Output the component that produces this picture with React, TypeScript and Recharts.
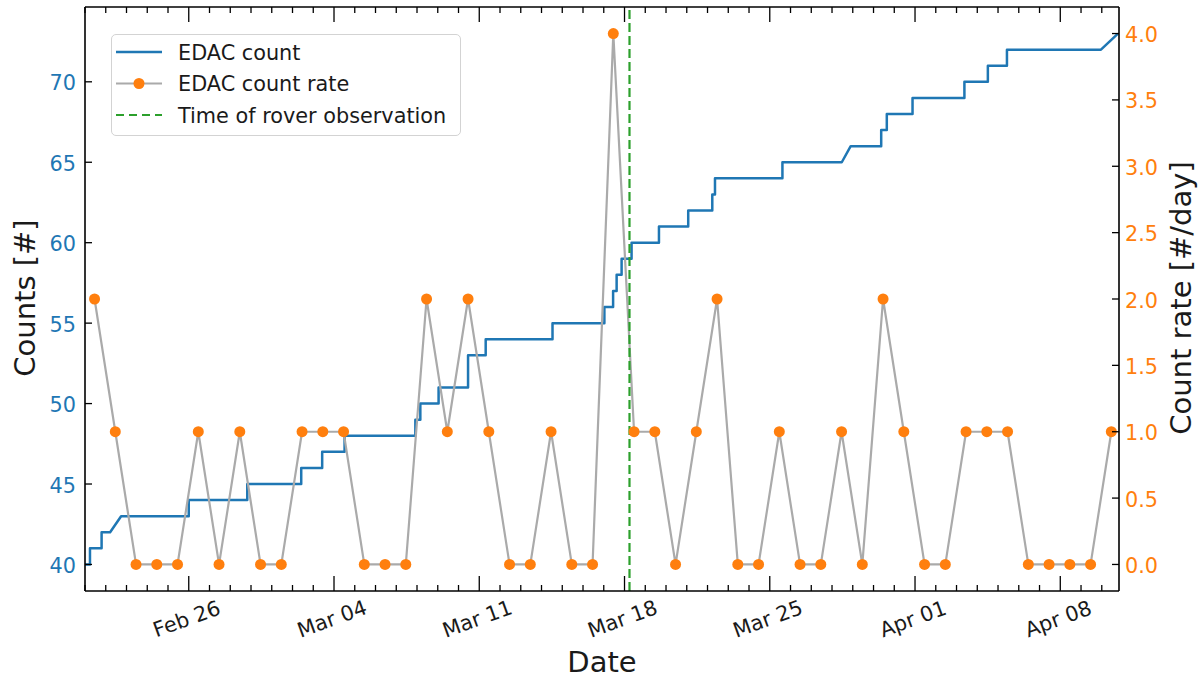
import React from 'react';
import { LineChart, Line, XAxis, YAxis, ReferenceLine, Legend } from 'recharts';

// Time axis: days since 2024-02-01 00:00 (Feb 21 = 20, Mar 18 = 46, Apr 08 = 67)
const countTimes = [
  20.0, 20.24, 20.24, 20.8, 20.8, 21.21, 21.74, 25.0, 25.0, 27.82, 27.82, 30.42, 30.42,
  31.43, 31.43, 32.51, 32.51, 35.92, 35.92, 36.16, 36.16, 37.04, 37.04, 38.46, 38.46,
  39.31, 39.31, 42.53, 42.53, 45.03, 45.03, 45.45, 45.45, 45.62, 45.62, 45.86, 45.86,
  46.34, 46.34, 47.66, 47.66, 49.07, 49.07, 50.23, 50.23, 50.36, 50.36, 53.61, 53.61,
  56.47, 56.9, 58.37, 58.37, 58.64, 58.64, 59.88, 59.88, 62.38, 62.38, 63.51, 63.51,
  64.43, 64.43, 68.96, 69.78,
];
const countValues = [
  40, 40, 41, 41, 42, 42, 43, 43, 44, 44, 45, 45, 46, 46, 47, 47, 48, 48, 49, 49, 50, 50,
  51, 51, 53, 53, 54, 54, 55, 55, 56, 56, 57, 57, 58, 58, 59, 59, 60, 60, 61, 61, 62, 62,
  63, 63, 64, 64, 65, 65, 66, 66, 67, 67, 68, 68, 69, 69, 70, 70, 71, 71, 72, 72, 73,
];

const rateTimes = [
  20.46, 21.46, 22.46, 23.46, 24.46, 25.46, 26.46, 27.46, 28.46, 29.46,
  30.46, 31.46, 32.46, 33.46, 34.46, 35.46, 36.46, 37.46, 38.46, 39.46,
  40.46, 41.46, 42.46, 43.46, 44.46, 45.46, 46.46, 47.46, 48.46, 49.46,
  50.46, 51.46, 52.46, 53.46, 54.46, 55.46, 56.46, 57.46, 58.46, 59.46,
  60.46, 61.46, 62.46, 63.46, 64.46, 65.46, 66.46, 67.46, 68.46, 69.46,
];
const rateValues = [
  2, 1, 0, 0, 0, 1, 0, 1, 0, 0,
  1, 1, 1, 0, 0, 0, 2, 1, 2, 1,
  0, 0, 1, 0, 0, 4, 1, 1, 0, 1,
  2, 0, 0, 1, 0, 0, 1, 0, 2, 1,
  0, 0, 1, 1, 1, 0, 0, 0, 0, 1,
];

const roverObsTime = 46.24;

const seriesNames = ['EDAC count', 'EDAC count rate', 'Time of rover observation'];

const dayTicks = [
  20, 21, 22, 23, 24, 25, 26, 27, 28, 29, 30, 31, 32, 33, 34, 35, 36, 37, 38, 39, 40,
  41, 42, 43, 44, 45, 46, 47, 48, 49, 50, 51, 52, 53, 54, 55, 56, 57, 58, 59, 60, 61,
  62, 63, 64, 65, 66, 67, 68, 69,
];
const majorTickDays = [25, 32, 39, 46, 53, 60, 67];
const majorTickLabels = ['Feb 26', 'Mar 04', 'Mar 11', 'Mar 18', 'Mar 25', 'Apr 01', 'Apr 08'];

const countTicks = [40, 45, 50, 55, 60, 65, 70];
const rateTicks = [0, 0.5, 1, 1.5, 2, 2.5, 3, 3.5, 4];
const rateTickLabels = ['0.0', '0.5', '1.0', '1.5', '2.0', '2.5', '3.0', '3.5', '4.0'];

const countData = countTimes.map((t, i) => ({ t, count: countValues[i] }));
const rateData = rateTimes.map((t, i) => ({ t, rate: rateValues[i] }));

// ---- layout / style constants ----
const W = 1201;
const H = 679;
const PLOT_LEFT = 85;
const RIGHT_W = 82;
const PLOT_RIGHT = W - RIGHT_W;
const PLOT_TOP = 7;
const XAXIS_H = 88;
const PLOT_BOTTOM = H - XAXIS_H;
const X_DOMAIN: [number, number] = [20, 69.83];
const LEFT_DOMAIN: [number, number] = [38.35, 74.65];
const RIGHT_DOMAIN: [number, number] = [-0.2, 4.2];

const FONT = '"DejaVu Sans", Verdana, sans-serif';
const TICK_FS = 20.8;
const TITLE_FS = 29;
const BLUE = '#1f77b4';
const ORANGE = '#ff7f0e';
const GRAY = '#aaaaaa';
const GREEN = '#2ca02c';
const AXIS_W = 1.6;

const XTick = (props: any) => {
  const { x, payload } = props;
  const idx = majorTickDays.indexOf(payload.value);
  const major = idx >= 0;
  const len = major ? 15 : 6;
  const cy = 619;
  return (
    <g>
      <line x1={x} x2={x} y1={PLOT_BOTTOM} y2={PLOT_BOTTOM - len} stroke="#000" strokeWidth={1.3} />
      <line x1={x} x2={x} y1={PLOT_TOP} y2={PLOT_TOP + len} stroke="#000" strokeWidth={1.3} />
      {major && (
        <text
          x={x - 2}
          y={cy}
          textAnchor="middle"
          dominantBaseline="central"
          transform={`rotate(-20 ${x - 2} ${cy})`}
          fontSize={TICK_FS}
          fontFamily={FONT}
          fill="#1a1a1a"
        >
          {majorTickLabels[idx]}
        </text>
      )}
    </g>
  );
};

const LeftTick = (props: any) => {
  const { y, payload } = props;
  return (
    <g>
      <line x1={PLOT_LEFT} x2={PLOT_LEFT + 7} y1={y} y2={y} stroke="#000" strokeWidth={1.3} />
      <text x={PLOT_LEFT - 9} y={y + 8.5} textAnchor="end" fontSize={TICK_FS} fontFamily={FONT} fill={BLUE}>
        {payload.value}
      </text>
    </g>
  );
};

const RightTick = (props: any) => {
  const { y, payload } = props;
  const idx = rateTicks.indexOf(payload.value);
  return (
    <g>
      <line x1={PLOT_RIGHT} x2={PLOT_RIGHT - 7} y1={y} y2={y} stroke="#000" strokeWidth={1.3} />
      <text x={PLOT_RIGHT + 6} y={y + 8.5} textAnchor="start" fontSize={TICK_FS} fontFamily={FONT} fill={ORANGE}>
        {rateTickLabels[idx]}
      </text>
    </g>
  );
};

const LeftTitle = () => (
  <text
    x={35}
    y={298}
    textAnchor="middle"
    transform="rotate(-90 35 298)"
    fontSize={TITLE_FS}
    fontFamily={FONT}
    fill="#1a1a1a"
  >
    Counts [#]
  </text>
);

const RightTitle = () => (
  <text
    x={1191}
    y={298}
    textAnchor="middle"
    transform="rotate(-90 1191 298)"
    fontSize={TITLE_FS}
    fontFamily={FONT}
    fill="#1a1a1a"
  >
    Count rate [#/day]
  </text>
);

const BottomTitle = () => (
  <text x={602} y={672} textAnchor="middle" fontSize={TITLE_FS} fontFamily={FONT} fill="#1a1a1a">
    Date
  </text>
);

const LegendBox = () => {
  const rows = [18, 49.5, 81];
  return (
    <div
      style={{
        width: 350,
        height: 102,
        boxSizing: 'border-box',
        border: '1px solid #d3d3d3',
        borderRadius: 5,
        background: 'rgba(255,255,255,0.85)',
      }}
    >
      <svg width={348} height={100} style={{ display: 'block' }}>
        <line x1={4} x2={50} y1={rows[0] - 1} y2={rows[0] - 1} stroke={BLUE} strokeWidth={2.5} />
        <line x1={4} x2={50} y1={rows[1] - 1} y2={rows[1] - 1} stroke={GRAY} strokeWidth={2.2} />
        <circle cx={27} cy={rows[1] - 1} r={5.5} fill={ORANGE} />
        <line
          x1={4}
          x2={50}
          y1={rows[2] - 1}
          y2={rows[2] - 1}
          stroke={GREEN}
          strokeWidth={2.2}
          strokeDasharray="8 5"
        />
        {seriesNames.map((n, i) => (
          <text key={n} x={66} y={rows[i] - 1 + 7.6} fontSize={TICK_FS} fontFamily={FONT} fill="#1a1a1a">
            {n}
          </text>
        ))}
      </svg>
    </div>
  );
};

export default function App() {
  return (
    <div style={{ position: 'absolute', left: 0, top: 0, width: W, height: H, background: '#fff' }}>
      <LineChart width={W} height={H} margin={{ top: PLOT_TOP, right: 0, bottom: 0, left: 0 }}>
        <XAxis
          xAxisId="x"
          dataKey="t"
          type="number"
          domain={X_DOMAIN}
          allowDataOverflow
          ticks={dayTicks}
          interval={0}
          tick={<XTick />}
          tickLine={false}
          tickSize={0}
          tickMargin={0}
          height={XAXIS_H}
          axisLine={{ stroke: '#000', strokeWidth: AXIS_W }}
          label={{ content: BottomTitle }}
        />
        <YAxis
          yAxisId="left"
          orientation="left"
          type="number"
          domain={LEFT_DOMAIN}
          allowDataOverflow
          ticks={countTicks}
          interval={0}
          tick={<LeftTick />}
          tickLine={false}
          tickSize={0}
          width={PLOT_LEFT}
          axisLine={{ stroke: '#000', strokeWidth: AXIS_W }}
          label={{ content: LeftTitle }}
        />
        <YAxis
          yAxisId="right"
          orientation="right"
          type="number"
          domain={RIGHT_DOMAIN}
          allowDataOverflow
          ticks={rateTicks}
          interval={0}
          tick={<RightTick />}
          tickLine={false}
          tickSize={0}
          width={RIGHT_W}
          axisLine={{ stroke: '#000', strokeWidth: AXIS_W }}
          label={{ content: RightTitle }}
        />
        <ReferenceLine
          xAxisId="x"
          yAxisId="left"
          y={LEFT_DOMAIN[1]}
          stroke="#000"
          strokeWidth={AXIS_W}
          ifOverflow="visible"
        />
        <Line
          xAxisId="x"
          yAxisId="left"
          data={countData}
          dataKey="count"
          name={seriesNames[0]}
          type="linear"
          stroke={BLUE}
          strokeWidth={2.5}
          strokeLinejoin="round"
          dot={false}
          activeDot={false}
          isAnimationActive={false}
        />
        <Line
          xAxisId="x"
          yAxisId="right"
          data={rateData}
          dataKey="rate"
          name={seriesNames[1]}
          type="linear"
          stroke={GRAY}
          strokeWidth={2.2}
          strokeLinejoin="round"
          dot={{ r: 5.5, fill: ORANGE, stroke: ORANGE, strokeWidth: 0 }}
          activeDot={false}
          isAnimationActive={false}
        />
        <ReferenceLine
          xAxisId="x"
          yAxisId="left"
          x={roverObsTime}
          stroke={GREEN}
          strokeWidth={2.2}
          strokeDasharray="9 4"
        />
        <Legend
          layout="horizontal"
          verticalAlign="middle"
          align="center"
          content={LegendBox}
          wrapperStyle={{ left: 111, top: 34, width: 350, height: 102 }}
        />
      </LineChart>
    </div>
  );
}
